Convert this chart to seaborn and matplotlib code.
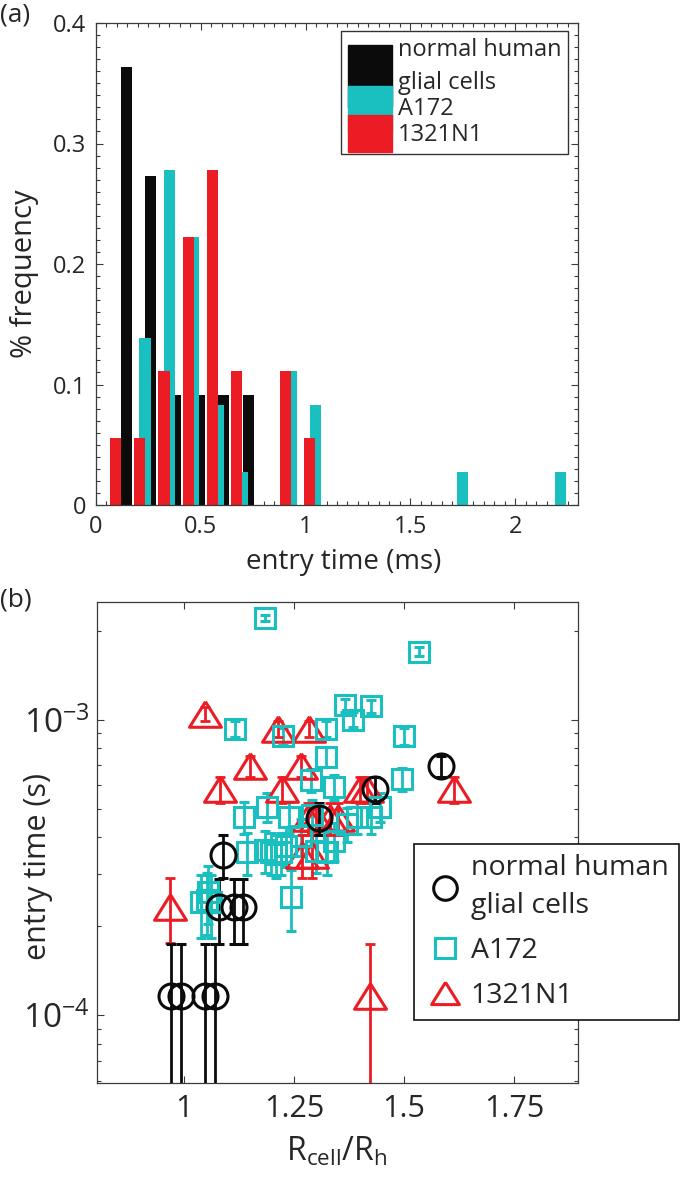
import numpy as np
import pandas as pd
import matplotlib
matplotlib.use("Agg")
import matplotlib.pyplot as plt
import seaborn as sns
from matplotlib.patches import Rectangle, Patch
from matplotlib.lines import Line2D
from matplotlib.legend_handler import HandlerPatch
from matplotlib.ticker import MultipleLocator, FixedLocator, FuncFormatter, LogLocator, NullFormatter

# ---------------- data ----------------
series_labels = ["normal human\nglial cells", "A172", "1321N1"]

# panel (a): histogram of entry time (ms); first bin centre, bin width, counts per bin
black_bin_start, black_bin_width = 0.144, 0.1165
cyan_bin_start, cyan_bin_width = 0.234, 0.1165
red_bin_start, red_bin_width = 0.093, 0.1157
black_counts = [4, 3, 1, 1, 1, 1]
cyan_counts = [5, 10, 8, 3, 1, 0, 4, 3, 0, 0, 0, 0, 0, 1, 0, 0, 0, 1]
red_counts = [1, 1, 2, 4, 5, 2, 0, 2, 1]

# panel (b): entry time (s) vs R_cell/R_h
black_ratio = [0.971, 0.994, 1.049, 1.070, 1.079, 1.113, 1.135, 1.090, 1.308, 1.435, 1.585]
black_time = [1.16e-4, 1.16e-4, 1.16e-4, 1.16e-4, 2.32e-4, 2.32e-4, 2.32e-4,
              3.49e-4, 4.65e-4, 5.82e-4, 6.98e-4]

cyan_ratio = [1.040, 1.052, 1.062, 1.055, 1.243,
              1.144, 1.185, 1.197, 1.210, 1.220, 1.265, 1.300, 1.325, 1.340, 1.232,
              1.136, 1.189, 1.238, 1.290, 1.371, 1.394, 1.424, 1.445,
              1.288, 1.340, 1.496,
              1.322,
              1.117, 1.225, 1.322, 1.500,
              1.365, 1.385, 1.424,
              1.534, 1.185]
cyan_time = [2.41e-4, 2.45e-4, 2.41e-4, 2.62e-4, 2.51e-4,
             3.56e-4, 3.62e-4, 3.56e-4, 3.50e-4, 3.56e-4, 4.05e-4, 3.60e-4, 3.56e-4, 3.90e-4, 3.75e-4,
             4.69e-4, 5.07e-4, 4.69e-4, 4.75e-4, 4.44e-4, 4.69e-4, 4.69e-4, 5.07e-4,
             6.25e-4, 5.93e-4, 6.30e-4,
             7.50e-4,
             9.30e-4, 8.80e-4, 9.30e-4, 8.77e-4,
             1.12e-3, 1.00e-3, 1.11e-3,
             1.70e-3, 2.21e-3]

red_ratio = [0.969, 1.422, 1.269, 1.291, 1.281, 1.300, 1.333, 1.350,
             1.083, 1.223, 1.401, 1.416, 1.613, 1.151, 1.265, 1.213, 1.284, 1.049]
red_time = [2.33e-4, 1.16e-4, 3.49e-4, 3.49e-4, 4.65e-4, 4.65e-4, 4.65e-4, 4.65e-4,
            5.82e-4, 5.82e-4, 5.82e-4, 5.82e-4, 5.82e-4, 6.98e-4, 6.98e-4, 9.31e-4, 9.31e-4, 1.047e-3]

entry_time_err = 5.8e-5  # s, same for every point

# ---------------- style ----------------
sns.set_style("ticks")
plt.rcParams["font.family"] = ["Open Sans", "DejaVu Sans"]
plt.rcParams["mathtext.fontset"] = "custom"
plt.rcParams["mathtext.rm"] = "Open Sans"
plt.rcParams["mathtext.it"] = "Open Sans:italic"
plt.rcParams["mathtext.default"] = "regular"
plt.rcParams["axes.unicode_minus"] = True

C_BLACK = "#0b0b0b"
C_CYAN = "#1abfbf"
C_RED = "#ec1c24"
SPINE = "#3a3a3a"

fig = plt.figure(figsize=(6.82, 11.78), dpi=100)
W, H = 682, 1178
ax1 = fig.add_axes([96 / W, 1 - 505 / H, (578 - 96) / W, (505 - 23) / H])
ax2 = fig.add_axes([97 / W, 1 - 1083 / H, (578 - 97) / W, (1083 - 602) / H])

# ---------------- panel (a) ----------------
def bin_setup(start, width, counts):
    centres = start + width * np.arange(len(counts))
    edges = np.append(centres - width / 2, centres[-1] + width / 2)
    return centres, [float(e) for e in edges]

bar_w = 0.053
for start, width, counts, col in [(black_bin_start, black_bin_width, black_counts, C_BLACK),
                                   (cyan_bin_start, cyan_bin_width, cyan_counts, C_CYAN),
                                   (red_bin_start, red_bin_width, red_counts, C_RED)]:
    centres, edges = bin_setup(start, width, counts)
    df = pd.DataFrame({"t": centres, "w": np.asarray(counts, dtype=float)})
    sns.histplot(data=df, x="t", weights="w", bins=edges, stat="probability",
                 shrink=bar_w / width, color=col, alpha=1, edgecolor="none",
                 linewidth=0, ax=ax1)

ax1.set_xlim(0, 2.3)
ax1.set_ylim(0, 0.4)
ax1.xaxis.set_major_locator(FixedLocator([0, 0.5, 1, 1.5, 2]))
ax1.xaxis.set_minor_locator(MultipleLocator(0.05))
ax1.yaxis.set_major_locator(FixedLocator([0, 0.1, 0.2, 0.3, 0.4]))
ax1.yaxis.set_minor_locator(MultipleLocator(0.01))
fmt = FuncFormatter(lambda v, p: f"{v:g}")
ax1.xaxis.set_major_formatter(fmt)
ax1.yaxis.set_major_formatter(fmt)
ax1.tick_params(which="both", direction="in", top=True, right=True, color=SPINE, width=0.8)
ax1.tick_params(which="major", length=5, labelsize=17, pad=7)
ax1.tick_params(which="minor", length=3)
ax1.set_xlabel("entry time (ms)", fontsize=20)
ax1.xaxis.set_label_coords(0.513, -0.09)
ax1.set_ylabel("% frequency", fontsize=21)
ax1.yaxis.set_label_coords(-0.118, 0.48)
for s in ax1.spines.values():
    s.set_color(SPINE)
    s.set_linewidth(0.9)

def tall_func(up, down):
    def f(legend, orig_handle, xdescent, ydescent, width, height, fontsize):
        return Rectangle((-xdescent, -ydescent - down * fontsize), width,
                         height + (up + down) * fontsize)
    return f

h_black = Patch(color=C_BLACK)
h_cyan = Patch(color=C_CYAN)
h_red = Patch(color=C_RED)
leg1 = ax1.legend([h_black, h_cyan, h_red], series_labels, loc="upper left",
                  bbox_to_anchor=(341 / W, 1 - 30.7 / H), bbox_transform=fig.transFigure,
                  fontsize=17, frameon=True, fancybox=False, framealpha=1, edgecolor="#333333",
                  handlelength=1.84, handleheight=1.1, handletextpad=0.27, labelspacing=0.03,
                  borderpad=0.3, borderaxespad=0,
                  handler_map={h_black: HandlerPatch(patch_func=tall_func(0.47, 1.2)),
                               h_cyan: HandlerPatch(patch_func=tall_func(0.41, 0.6)),
                               h_red: HandlerPatch(patch_func=tall_func(0.28, 0.35))})
leg1.get_frame().set_linewidth(1.0)
for t in leg1.get_texts():
    t.set_linespacing(1.5)

# ---------------- panel (b) ----------------
mk = dict(mfc="none", linestyle="none", elinewidth=2.0, capsize=3.5, capthick=2.0, mew=2.2)
ax2.errorbar(cyan_ratio, cyan_time, yerr=entry_time_err, fmt="s", ms=14.5, color=C_CYAN,
             ecolor=C_CYAN, mec=C_CYAN, **mk)
tri = [(0, 0.8), (-1, -0.8), (1, -0.8), (0, 0.8)]
ax2.errorbar(red_ratio, red_time, yerr=entry_time_err, fmt="none", ecolor=C_RED,
             elinewidth=2.0, capsize=3.5, capthick=2.0)
ax2.plot(red_ratio, red_time, linestyle="none", marker=tri, ms=23, mfc="none", mec=C_RED, mew=2.2)
ax2.errorbar(black_ratio, black_time, yerr=entry_time_err, fmt="o", ms=18, color=C_BLACK,
             ecolor=C_BLACK, mec=C_BLACK, **mk)

ax2.set_yscale("log")
ax2.set_xlim(0.803, 1.895)
ax2.set_ylim(5.9e-5, 2.5e-3)
ax2.xaxis.set_major_locator(FixedLocator([1, 1.25, 1.5, 1.75]))
ax2.xaxis.set_major_formatter(fmt)
ax2.yaxis.set_major_locator(LogLocator(base=10, numticks=10))
ax2.yaxis.set_minor_locator(LogLocator(base=10, subs=np.arange(2, 10), numticks=20))
ax2.yaxis.set_minor_formatter(NullFormatter())
ax2.tick_params(which="both", direction="in", top=True, right=True, color=SPINE, width=0.8)
ax2.tick_params(which="major", length=5)
ax2.tick_params(axis="x", which="major", pad=8, labelsize=22)
ax2.tick_params(axis="y", which="major", pad=5, labelsize=24)
ax2.tick_params(which="minor", length=3)
ax2.set_xlabel(r"R$_{cell}$/R$_h$", fontsize=23)
ax2.xaxis.set_label_coords(0.498, -0.108)
ax2.set_ylabel("entry time (s)", fontsize=22)
ax2.yaxis.set_label_coords(-0.092, 0.451)
for s in ax2.spines.values():
    s.set_color(SPINE)
    s.set_linewidth(0.9)

hb = Line2D([], [], linestyle="none", marker="o", ms=17, mfc="none", mec=C_BLACK, mew=2.2)
hc = Line2D([], [], linestyle="none", marker="s", ms=14, mfc="none", mec=C_CYAN, mew=2.2)
hr = Line2D([], [], linestyle="none", marker=tri, ms=20, mfc="none", mec=C_RED, mew=2.2)
leg2 = ax2.legend([hb, hc, hr], series_labels, loc="upper left",
                  bbox_to_anchor=(413.5 / W, 1 - 844 / H), bbox_transform=fig.transFigure,
                  fontsize=20.5, frameon=True, fancybox=False, framealpha=1, edgecolor="#111111",
                  handlelength=1.5, handletextpad=0.15, labelspacing=0.6, borderpad=0.36,
                  borderaxespad=0)
leg2.get_frame().set_linewidth(1.2)
for t in leg2.get_texts():
    t.set_linespacing(1.45)

fig.text(0.0, 1 - 15 / H, "(a)", fontsize=19, ha="left", va="center")
fig.text(0.0, 1 - 600 / H, "(b)", fontsize=19, ha="left", va="center")

fig.savefig("out.png", dpi=100)
